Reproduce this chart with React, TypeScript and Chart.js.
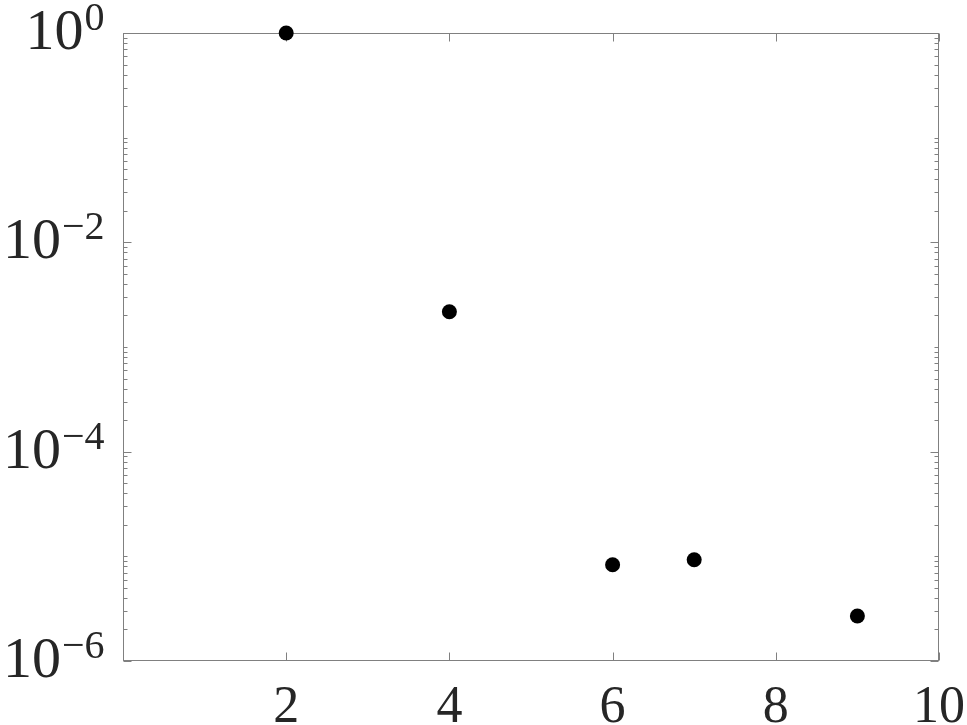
import React, { useEffect, useRef } from "react";
import { Chart, registerables } from "chart.js";

Chart.register(...registerables);

const xValues = [2, 4, 6, 7, 9];
const yValues = [1, 2.17e-3, 8.32e-6, 9.29e-6, 2.69e-6];
const xTickValues = [2, 4, 6, 8, 10];
const yTickExponents = [0, -2, -4, -6];

const FONT = '"Liberation Serif", "DejaVu Serif", serif';
const AXIS_COLOR = "#808080";
const TEXT_COLOR = "#262626";

const framePlugin = {
  id: "matlabFrame",
  beforeDatasetsDraw(chart: any) {
    const { ctx, chartArea } = chart;
    const xs = chart.scales.x;
    const ys = chart.scales.y;
    const L = Math.round(chartArea.left) + 0.5;
    const R = Math.round(chartArea.right) - 0.5;
    const T = Math.round(chartArea.top) + 0.5;
    const B = Math.round(chartArea.bottom) - 0.5;
    ctx.save();
    ctx.strokeStyle = AXIS_COLOR;
    ctx.lineWidth = 1;
    ctx.strokeRect(L, T, R - L, B - T);

    const yMin = ys.min;
    const yMax = ys.max;
    const eMin = Math.floor(Math.log10(yMin));
    const eMax = Math.ceil(Math.log10(yMax));
    ctx.beginPath();
    for (let e = eMin; e <= eMax; e++) {
      for (let m = 1; m <= 9; m++) {
        const v = m * Math.pow(10, e);
        if (v < yMin * 0.999 || v > yMax * 1.001) continue;
        const py = Math.round(ys.getPixelForValue(v)) + 0.5;
        const major = m === 1 && yTickExponents.includes(e);
        const len = major ? 8 : 4;
        ctx.moveTo(L, py);
        ctx.lineTo(L + len, py);
        ctx.moveTo(R, py);
        ctx.lineTo(R - len, py);
      }
    }
    xTickValues.forEach((v) => {
      const px = Math.round(xs.getPixelForValue(v)) + 0.5;
      ctx.moveTo(px, B);
      ctx.lineTo(px, B - 8);
      ctx.moveTo(px, T);
      ctx.lineTo(px, T + 8);
    });
    ctx.stroke();

    ctx.fillStyle = TEXT_COLOR;
    ctx.textBaseline = "alphabetic";
    const rightEdge = L - 19;
    yTickExponents.forEach((e) => {
      const py = ys.getPixelForValue(Math.pow(10, e));
      const expText = e < 0 ? "\u2212" + String(-e) : String(e);
      ctx.font = `40px ${FONT}`;
      ctx.textAlign = "right";
      ctx.fillText(expText, rightEdge, py - 3);
      const expW = ctx.measureText(expText).width;
      ctx.font = `58px ${FONT}`;
      ctx.fillText("10", rightEdge - expW - 1, py + 16);
    });

    ctx.font = `52px ${FONT}`;
    ctx.textAlign = "center";
    xTickValues.forEach((v) => {
      const px = xs.getPixelForValue(v);
      ctx.fillText(String(v), px, B + 61);
    });
    ctx.restore();
  },
};

export default function App() {
  const ref = useRef<HTMLCanvasElement | null>(null);
  useEffect(() => {
    document.body.style.margin = "0";
    const canvas = ref.current;
    if (!canvas) return;
    const chart = new Chart(canvas, {
      type: "scatter",
      data: {
        datasets: [
          {
            data: xValues.map((x, i) => ({ x, y: yValues[i] })),
            backgroundColor: "#000000",
            borderColor: "#000000",
            pointRadius: 7.5,
            pointHoverRadius: 7.5,
            borderWidth: 0,
            clip: false as any,
          },
        ],
      },
      options: {
        animation: false,
        responsive: false,
        maintainAspectRatio: false,
        layout: { padding: { left: 123, top: 33, right: 28, bottom: 64 } },
        plugins: { legend: { display: false }, tooltip: { enabled: false } },
        scales: {
          x: { type: "linear", min: 0, max: 10, display: false },
          y: { type: "logarithmic", min: 1e-6, max: 1, display: false },
        },
      },
      plugins: [framePlugin],
    });
    return () => chart.destroy();
  }, []);
  return (
    <div style={{ position: "absolute", left: 0, top: 0, width: 967, height: 725, background: "#fff" }}>
      <canvas ref={ref} width={967} height={725} style={{ width: 967, height: 725, display: "block" }} />
    </div>
  );
}
